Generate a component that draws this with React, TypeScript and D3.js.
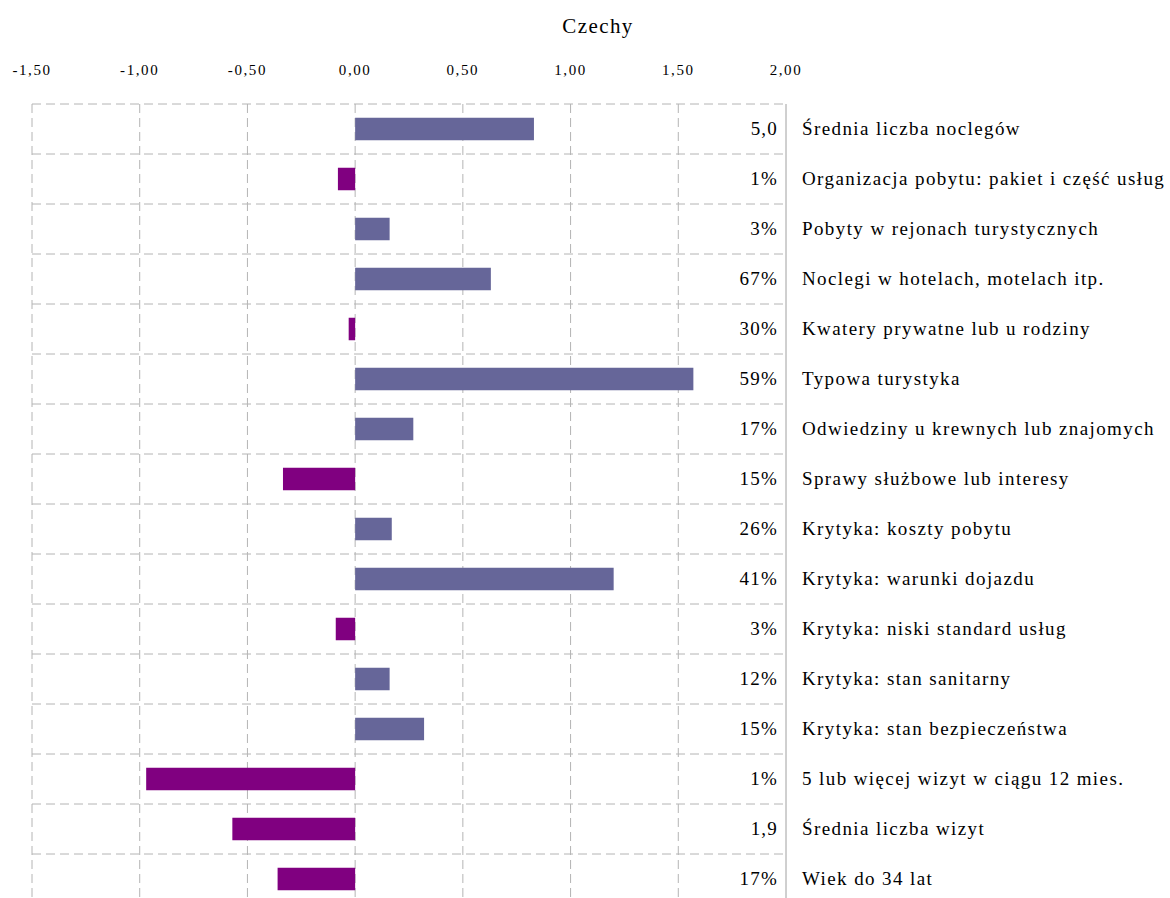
import React from "react";
import * as d3 from "d3";

const categories = [
  "Średnia liczba noclegów",
  "Organizacja pobytu: pakiet i część usług",
  "Pobyty w rejonach turystycznych",
  "Noclegi w hotelach, motelach itp.",
  "Kwatery prywatne lub u rodziny",
  "Typowa turystyka",
  "Odwiedziny u krewnych lub znajomych",
  "Sprawy służbowe lub interesy",
  "Krytyka: koszty pobytu",
  "Krytyka: warunki dojazdu",
  "Krytyka: niski standard usług",
  "Krytyka: stan sanitarny",
  "Krytyka: stan bezpieczeństwa",
  "5 lub więcej wizyt w ciągu 12 mies.",
  "Średnia liczba wizyt",
  "Wiek do 34 lat",
];
const values = [0.83, -0.08, 0.16, 0.63, -0.03, 1.57, 0.27, -0.335, 0.17, 1.2, -0.09, 0.16, 0.32, -0.97, -0.57, -0.36];
const valueLabels = ["5,0", "1%", "3%", "67%", "30%", "59%", "17%", "15%", "26%", "41%", "3%", "12%", "15%", "1%", "1,9", "17%"];
const tickValues = [-1.5, -1, -0.5, 0, 0.5, 1, 1.5, 2];
const title = "Czechy";

export default function App() {
  const W = 1170, H = 898;
  const left = 32, right = 786, top = 104, rowH = 50;
  const bottom = top + rowH * categories.length;
  const x = d3.scaleLinear().domain([-1.5, 2]).range([left, right]);
  const y = d3.scaleBand().domain(categories).range([top, bottom]).paddingInner(0.55).paddingOuter(0.275);
  const fmt = (v: number) => d3.format(".2f")(v).replace(".", ",").replace("−", "-");
  const grid = "#b4b4b4";
  const font = "Liberation Serif";
  return (
    <svg width={W} height={H} style={{ position: "absolute", left: 0, top: 0, background: "#fff", fontFamily: "'Liberation Serif', serif" }}>
      <rect x={0} y={0} width={W} height={H} fill="#fff" />
      <text x={598} y={33} fontSize={21} textAnchor="middle" fill="#000" style={{ fontFamily: font }} letterSpacing={1.4}>{title}</text>
      {tickValues.map((t) => (
        <text key={"t" + t} x={x(t)} y={75} fontSize={15} textAnchor="middle" fill="#000" style={{ fontFamily: font }} letterSpacing={1.6}>{fmt(t)}</text>
      ))}
      {tickValues.slice(0, -1).map((t) => (
        <line key={"v" + t} x1={x(t)} x2={x(t)} y1={top} y2={bottom} stroke={grid} strokeWidth={1} strokeDasharray="9,5" />
      ))}
      {d3.range(categories.length + 1).map((i) => (
        <line key={"h" + i} x1={left} x2={right} y1={top + i * rowH} y2={top + i * rowH} stroke={grid} strokeWidth={1} strokeDasharray="9,5" />
      ))}
      {categories.map((c, i) => {
        const v = values[i];
        const x0 = x(Math.min(0, v));
        const x1 = x(Math.max(0, v));
        return (
          <rect key={"b" + i} x={x0} y={y(c)!} width={x1 - x0} height={y.bandwidth()} fill={v >= 0 ? "#666699" : "#800080"} />
        );
      })}
      <line x1={right} x2={right} y1={top} y2={bottom} stroke="#a0a0a0" strokeWidth={1} />
      {categories.map((c, i) => (
        <g key={"l" + i}>
          <text x={778} y={y(c)! + y.bandwidth() / 2 + 6} fontSize={19} textAnchor="end" fill="#000" style={{ fontFamily: font }} letterSpacing={1.2}>{valueLabels[i]}</text>
          <text x={802} y={y(c)! + y.bandwidth() / 2 + 6} fontSize={19} fill="#000" style={{ fontFamily: font }} letterSpacing={1.4}>{c}</text>
        </g>
      ))}
    </svg>
  );
}
